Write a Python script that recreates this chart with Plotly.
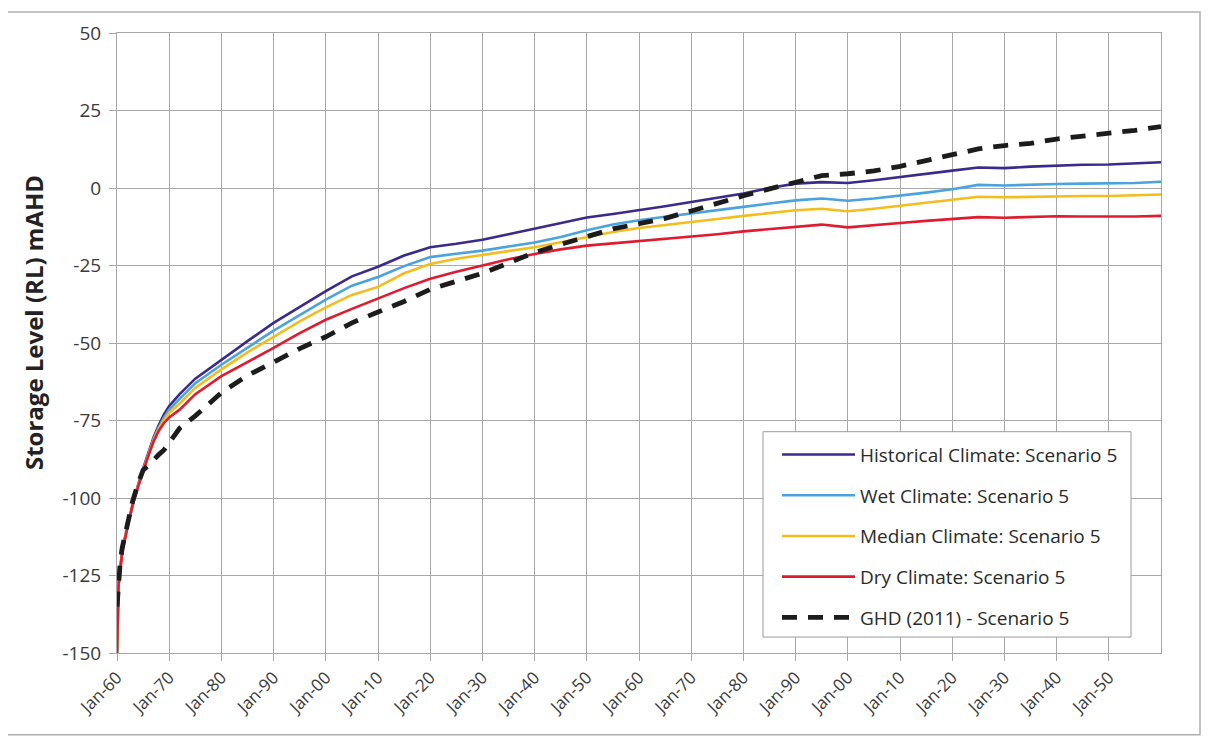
import plotly.graph_objects as go

# ---------------- data ----------------
years = [1960, 1960.3, 1960.6, 1961, 1962, 1963, 1964, 1965, 1966, 1967, 1968, 1969,
         1970, 1972, 1975, 1980, 1985, 1990, 1995, 2000, 2005, 2010, 2015, 2020,
         2025, 2030, 2035, 2040, 2045, 2050, 2055, 2060, 2065, 2070, 2075, 2080,
         2085, 2090, 2095, 2100, 2105, 2110, 2115, 2120, 2125, 2130, 2135, 2140,
         2145, 2150, 2155, 2160]

historical = [-150, -128, -123, -117, -109, -102, -96, -90.5, -85.5, -80.5, -76.5, -73,
              -70.3, -66.5, -61.5, -55.3, -49.4, -43.5, -38.3, -33.3, -28.5, -25.4, -21.8, -19.1,
              -18, -16.7, -14.9, -13.1, -11.5, -9.5, -8.4, -7.2, -5.9, -4.5, -3.2, -1.8,
              0, 1.4, 1.9, 1.6, 2.5, 3.6, 4.6, 5.6, 6.6, 6.4, 6.9, 7.3,
              7.5, 7.6, 7.9, 8.3]

wet = [-150, -128, -123.2, -117.2, -109.2, -102, -96.2, -90.8, -86, -81, -77.2, -74,
       -71.5, -68, -63, -57, -51.5, -46, -41, -36, -31.5, -28.7, -25.2, -22.3,
       -21.2, -20.2, -18.9, -17.6, -15.8, -13.6, -11.8, -10.4, -9.3, -8.3, -7.2, -6.1,
       -5, -4, -3.4, -4.1, -3.4, -2.5, -1.5, -0.4, 1, 0.8, 1.1, 1.3,
       1.4, 1.4, 1.6, 2]

median = [-150, -128, -123.4, -117.4, -109.4, -102, -96.4, -91, -86.2, -81.3, -77.7, -74.8,
          -72.5, -69.5, -64.5, -58.5, -53, -48, -43, -38.5, -34.5, -31.9, -27.5, -24.5,
          -22.8, -21.6, -20.3, -19.1, -17.5, -15.8, -14.2, -12.9, -12, -11, -10, -9,
          -8, -7.2, -6.7, -7.5, -6.7, -5.7, -4.8, -3.9, -2.8, -3, -2.8, -2.6,
          -2.6, -2.6, -2.4, -2.1]

dry = [-150, -128, -123.6, -117.5, -109.5, -102, -96.6, -91.2, -86.4, -81.8, -78.3, -75.8,
       -74, -71.5, -66.5, -60.7, -56.2, -51.6, -46.8, -42.5, -39, -35.6, -32.3, -29.3,
       -27, -25, -23, -21.3, -19.8, -18.6, -17.9, -17.2, -16.5, -15.8, -14.9, -14,
       -13.3, -12.6, -11.8, -12.7, -12.1, -11.3, -10.6, -10, -9.4, -9.6, -9.3, -9.1,
       -9.2, -9.3, -9.2, -9]

ghd = [-135, -127, -121, -116, -108, -101, -95.5, -91, -89.5, -87.5, -86, -84.5,
       -82, -77.5, -73.5, -66, -60.5, -56, -51.8, -48, -43.5, -40, -36.6, -32.7,
       -30.2, -27.5, -24.2, -20.8, -18.2, -15.7, -13.2, -11.5, -9.8, -7.4, -4.8, -2.5,
       -0.3, 2, 4, 4.6, 5.5, 7, 8.9, 10.9, 12.6, 13.7, 14.4, 15.8,
       16.7, 17.4, 18.6, 19.8]

tick_years = [1960, 1970, 1980, 1990, 2000, 2010, 2020, 2030, 2040, 2050,
              2060, 2070, 2080, 2090, 2100, 2110, 2120, 2130, 2140, 2150]
tick_labels = ["Jan-60", "Jan-70", "Jan-80", "Jan-90", "Jan-00", "Jan-10", "Jan-20",
               "Jan-30", "Jan-40", "Jan-50", "Jan-60", "Jan-70", "Jan-80", "Jan-90",
               "Jan-00", "Jan-10", "Jan-20", "Jan-30", "Jan-40", "Jan-50"]
y_ticks = [-150, -125, -100, -75, -50, -25, 0, 25, 50]
y_tick_labels = ["-150", "-125", "-100", "-75", "-50", "-25", "0", "25", "50"]

series_names = ["Historical Climate: Scenario 5", "Wet Climate: Scenario 5",
                "Median Climate: Scenario 5", "Dry Climate: Scenario 5",
                "GHD (2011) - Scenario 5"]
y_title = "Storage Level (RL) mAHD"

# ---------------- figure ----------------
FONT = "'Open Sans', sans-serif"
fig = go.Figure()

styles = [
    dict(color="#3b2a8c", width=2.6),
    dict(color="#4aa3df", width=2.6),
    dict(color="#f2bd1d", width=2.6),
    dict(color="#e01b2f", width=2.6),
    dict(color="#1c1c1c", width=4.8, dash="15px,11px"),
]
values = [historical, wet, median, dry, ghd]

for i, (name, vals, st) in enumerate(zip(series_names, values, styles)):
    fig.add_trace(go.Scatter(
        x=years, y=vals, mode="lines", name=name,
        line=st, legendgroup=f"g{i}", showlegend=True,
    ))

grid_col = "#a8a8a8"
W, H = 1202, 729          # page body has an 8px margin
L, R, T, B = 109, 49, 23, 84
pw, ph = W - L - R, H - T - B


def px_x(x):  # absolute screenshot pixel -> paper x
    return (x - 8 - L) / pw


def px_y(y):  # absolute screenshot pixel -> paper y
    return (H - B - (y - 8)) / ph


fig.update_layout(
    width=W, height=H,
    margin=dict(l=L, r=R, t=T, b=B),
    paper_bgcolor="white", plot_bgcolor="white",
    font=dict(family=FONT, size=16, color="#3a3a3a"),
    showlegend=True,
    legend=dict(
        x=px_x(777), y=px_y(435), xanchor="left", yanchor="top",
        bgcolor="rgba(0,0,0,0)", borderwidth=0,
        font=dict(family=FONT, size=19, color="#2a2a2a"),
        traceorder="grouped", tracegroupgap=13,
        itemwidth=73,
    ),
    xaxis=dict(
        range=[1960, 2160], tickmode="array", tickvals=tick_years, ticktext=tick_labels,
        tickangle=-45, showgrid=True, gridcolor=grid_col, gridwidth=1,
        showline=True, linecolor=grid_col, linewidth=1, mirror=True,
        ticks="outside", ticklen=7, tickcolor=grid_col,
        zeroline=False, tickfont=dict(size=17, color="#3a3a3a"),
    ),
    yaxis=dict(
        range=[-150, 50], tickmode="array", tickvals=y_ticks, ticktext=y_tick_labels,
        showgrid=True, gridcolor=grid_col, gridwidth=1,
        showline=True, linecolor=grid_col, linewidth=1, mirror=True,
        ticks="outside", ticklen=7, tickcolor=grid_col, ticklabelstandoff=4,
        zeroline=False, tickfont=dict(size=19, color="#3a3a3a"),
    ),
    annotations=[dict(
        text=f"<b>{y_title}</b>", textangle=-90, showarrow=False,
        xref="paper", yref="paper", x=px_x(33), y=px_y(322),
        xanchor="center", yanchor="middle",
        font=dict(family=FONT, size=24, color="#222222"),
    )],
    shapes=[
        dict(type="rect", xref="paper", yref="paper",
             x0=px_x(7), x1=px_x(1200), y0=px_y(735), y1=px_y(10),
             line=dict(color="#b0b0b0", width=1.5), fillcolor="rgba(0,0,0,0)",
             layer="below"),
        dict(type="rect", xref="paper", yref="paper",
             x0=px_x(763), x1=px_x(1131), y0=px_y(637), y1=px_y(431),
             line=dict(color="#9a9a9a", width=1), fillcolor="white",
             layer="above"),
    ],
)

fig.write_html("out.html")
